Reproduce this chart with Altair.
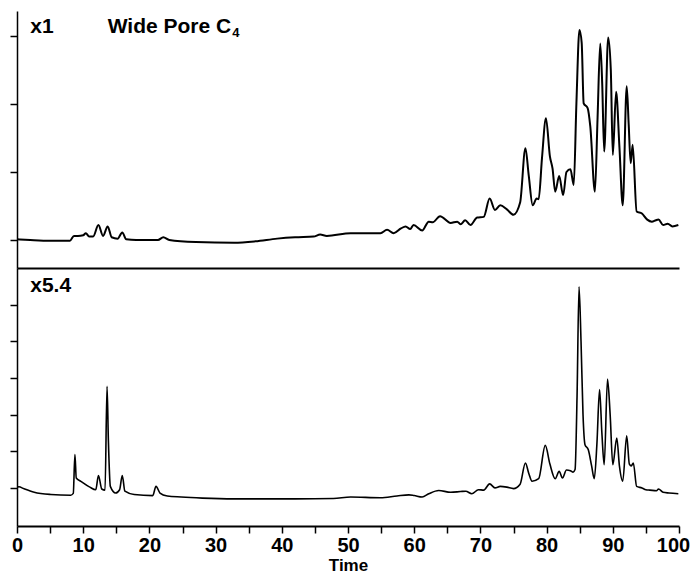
import altair as alt
import pandas as pd

# ---------------- data ----------------
top_time = [0, 2, 5, 8, 8.6, 9.2, 10.0, 10.4, 10.9, 11.5, 12.3, 13.0, 13.7, 14.3, 15.2, 15.9,
            16.5, 18, 21.3, 22.1, 23, 27, 32.8, 36, 39.3, 42, 44.8, 45.8, 46.8, 50.4, 53,
            54.9, 55.9, 56.9, 58.0, 58.7, 59.4, 59.9, 61.2, 62.2, 62.8, 63.9, 65.5, 66.5,
            67.0, 67.7, 68.5, 69.5, 70.5, 71.4, 72.2, 73.0, 74.0, 75.0, 76.0, 76.8, 77.3,
            77.9, 78.5, 78.8, 79.3, 79.9, 80.5, 80.9, 81.3, 81.9, 82.5, 83.0, 83.6, 84.1,
            84.5, 84.96, 85.3, 85.6, 86.2, 86.6, 87.3, 87.7, 88.1, 88.4, 88.7, 89.3, 89.7,
            90.0, 90.5, 91.0, 91.5, 92.1, 92.4, 92.7, 93.0, 93.6, 94.4, 95.2, 95.9, 96.5,
            96.9, 97.6, 98.3, 99.0, 99.9]
top_signal = [0.01, 0.0, -0.01, -0.01, 0.06, 0.06, 0.07, 0.10, 0.05, 0.05, 0.22, 0.06, 0.20,
              0.04, 0.02, 0.11, 0.01, 0.0, 0.0, 0.04, 0.0, -0.03, -0.04, -0.02, 0.02, 0.04,
              0.05, 0.08, 0.06, 0.10, 0.10, 0.10, 0.15, 0.10, 0.17, 0.20, 0.16, 0.22, 0.14,
              0.27, 0.26, 0.35, 0.25, 0.27, 0.23, 0.29, 0.22, 0.33, 0.34, 0.61, 0.44, 0.51,
              0.45, 0.37, 0.55, 1.35, 0.95, 0.51, 0.61, 0.60, 1.20, 1.79, 1.23, 1.05, 0.71,
              0.94, 0.66, 1.00, 1.04, 0.81, 2.00, 3.09, 2.90, 2.01, 1.94, 1.67, 0.71, 1.80,
              2.89, 2.30, 1.30, 2.98, 2.50, 1.25, 2.18, 1.37, 0.51, 2.26, 1.70, 1.13, 1.40,
              0.42, 0.39, 0.30, 0.27, 0.29, 0.30, 0.22, 0.24, 0.20, 0.22]

bottom_time = [0, 0.3, 1.0, 2.6, 5.1, 8.1, 8.5, 8.75, 8.95, 9.65, 11.0, 11.9, 12.3, 12.8,
               13.3, 13.6, 13.8, 14.1, 14.9, 15.5, 15.9, 16.3, 17.7, 20.5, 21.0, 21.6, 22.7,
               24.8, 28, 32.8, 37.8, 42, 47.8, 50.4, 54.9, 57.4, 59.2, 60, 61.2, 62.2, 63.7,
               65.5, 67.0, 67.8, 68.7, 69.7, 70.5, 71.4, 72.2, 73.0, 74.0, 75.0, 76.0, 76.8,
               77.3, 77.8, 78.8, 79.8, 80.5, 81.3, 81.9, 82.4, 83.0, 83.6, 84.0, 84.3, 84.6,
               84.9, 85.2, 85.5, 85.8, 86.3, 86.8, 87.2, 87.6, 88.0, 88.35, 88.7, 89.2, 89.6,
               90.0, 90.6, 91.0, 91.5, 92.1, 92.5, 92.8, 93.1, 93.6, 94.4, 95.0, 95.6, 96.6,
               96.9, 97.6, 98.5, 99.9]
bottom_signal = [0.02, 0.03, -0.02, -0.12, -0.18, -0.20, -0.15, 0.91, 0.27, 0.18, 0.02, -0.05,
                 0.34, -0.03, -0.06, 2.77, 1.32, 0.04, -0.14, -0.05, 0.34, -0.09, -0.18, -0.21,
                 0.04, -0.14, -0.22, -0.25, -0.28, -0.30, -0.30, -0.30, -0.29, -0.25, -0.27,
                 -0.22, -0.19, -0.21, -0.25, -0.16, -0.07, -0.12, -0.10, -0.09, -0.16, -0.05,
                 -0.06, 0.11, 0.0, 0.04, 0.02, -0.02, 0.10, 0.68, 0.40, 0.18, 0.25, 1.16, 0.65,
                 0.25, 0.45, 0.27, 0.49, 0.47, 0.43, 0.50, 2.50, 5.49, 4.00, 2.00, 1.18, 1.04,
                 0.60, 0.25, 1.20, 2.68, 1.50, 0.63, 2.97, 2.00, 0.63, 1.36, 0.60, 0.18, 1.42,
                 0.65, 0.60, 0.68, 0.04, 0.0, -0.05, -0.06, -0.08, -0.03, -0.12, -0.14, -0.16]

top_ticks = [0, 1, 2, 3]
bottom_ticks = [0, 1, 2, 3, 4, 5]
x_ticks = list(range(0, 101, 5))

top_labels = ["x1", "Wide Pore C"]
top_label_time = [2.0, 13.7]
top_label_signal = [3.05, 3.05]
sub_label = ["4"]
sub_label_time = [32.5]
sub_label_signal = [2.98]
bottom_labels = ["x5.4"]
bottom_label_time = [2.0]
bottom_label_signal = [5.35]

FONT = "Liberation Sans"

# ---------------- frames ----------------
top_df = pd.DataFrame({"Time": top_time, "Signal": top_signal})
bottom_df = pd.DataFrame({"Time": bottom_time, "Signal": bottom_signal})
top_lab_df = pd.DataFrame({"Time": top_label_time, "Signal": top_label_signal, "text": top_labels})
sub_lab_df = pd.DataFrame({"Time": sub_label_time, "Signal": sub_label_signal, "text": sub_label})
bot_lab_df = pd.DataFrame({"Time": bottom_label_time, "Signal": bottom_label_signal, "text": bottom_labels})

W = 662
H_TOP = 257
H_BOT = 258

x_top = alt.X("Time:Q", scale=alt.Scale(domain=[0, 100], nice=False),
              axis=alt.Axis(labels=False, ticks=False, title=None, grid=False,
                            domainColor="black", domainWidth=2))
y_top = alt.Y("Signal:Q", scale=alt.Scale(domain=[-0.412, 3.368], nice=False, zero=False),
              axis=alt.Axis(values=top_ticks, labels=False, title=None, grid=False,
                            tickSize=7, tickWidth=1.5, tickColor="black",
                            domainColor="black", domainWidth=1.5))

x_bot = alt.X("Time:Q", scale=alt.Scale(domain=[0, 100], nice=False),
              axis=alt.Axis(values=x_ticks,
                            labelExpr="datum.value % 10 === 0 ? datum.label : ''",
                            labelOverlap=False, labelFlush=False,
                            labelOffset={"condition": {"test": "datum.value === 100", "value": -6},
                                         "value": 0},
                            tickSize=7, tickWidth=1.5, tickColor="black",
                            domainColor="black", domainWidth=2, grid=False,
                            labelFont=FONT, labelFontWeight="bold", labelFontSize=20,
                            labelColor="black", labelPadding=2,
                            title="Time", titleFont=FONT, titleFontWeight="bold",
                            titleFontSize=17, titleColor="black", titlePadding=2))
y_bot = alt.Y("Signal:Q", scale=alt.Scale(domain=[-1.04, 6.0], nice=False, zero=False),
              axis=alt.Axis(values=bottom_ticks, labels=False, title=None, grid=False,
                            tickSize=7, tickWidth=1.5, tickColor="black",
                            domainColor="black", domainWidth=1.5))

top_line = alt.Chart(top_df).mark_line(color="black", strokeWidth=2.0,
                                       interpolate="monotone", clip=True).encode(x=x_top, y=y_top)
top_text = alt.Chart(top_lab_df).mark_text(align="left", baseline="alphabetic", font=FONT,
                                           fontWeight="bold", fontSize=21, color="black"
                                           ).encode(x=x_top, y=y_top, text="text:N")
sub_text = alt.Chart(sub_lab_df).mark_text(align="left", baseline="alphabetic", font=FONT,
                                           fontWeight="bold", fontSize=13, color="black"
                                           ).encode(x=x_top, y=y_top, text="text:N")
top = alt.layer(top_line, top_text, sub_text).properties(width=W, height=H_TOP)

bot_line = alt.Chart(bottom_df).mark_line(color="black", strokeWidth=1.6,
                                          interpolate="monotone", clip=True).encode(x=x_bot, y=y_bot)
bot_text = alt.Chart(bot_lab_df).mark_text(align="left", baseline="alphabetic", font=FONT,
                                           fontWeight="bold", fontSize=21, color="black"
                                           ).encode(x=x_bot, y=y_bot, text="text:N")
bottom = alt.layer(bot_line, bot_text).properties(width=W, height=H_BOT)

chart = alt.vconcat(top, bottom, spacing=0).properties(
    padding={"left": 1, "top": 3, "right": 0, "bottom": 0},
    background="white",
).configure_view(stroke=None)

chart.save("out.html", embed_options={"renderer": "svg", "actions": False})
